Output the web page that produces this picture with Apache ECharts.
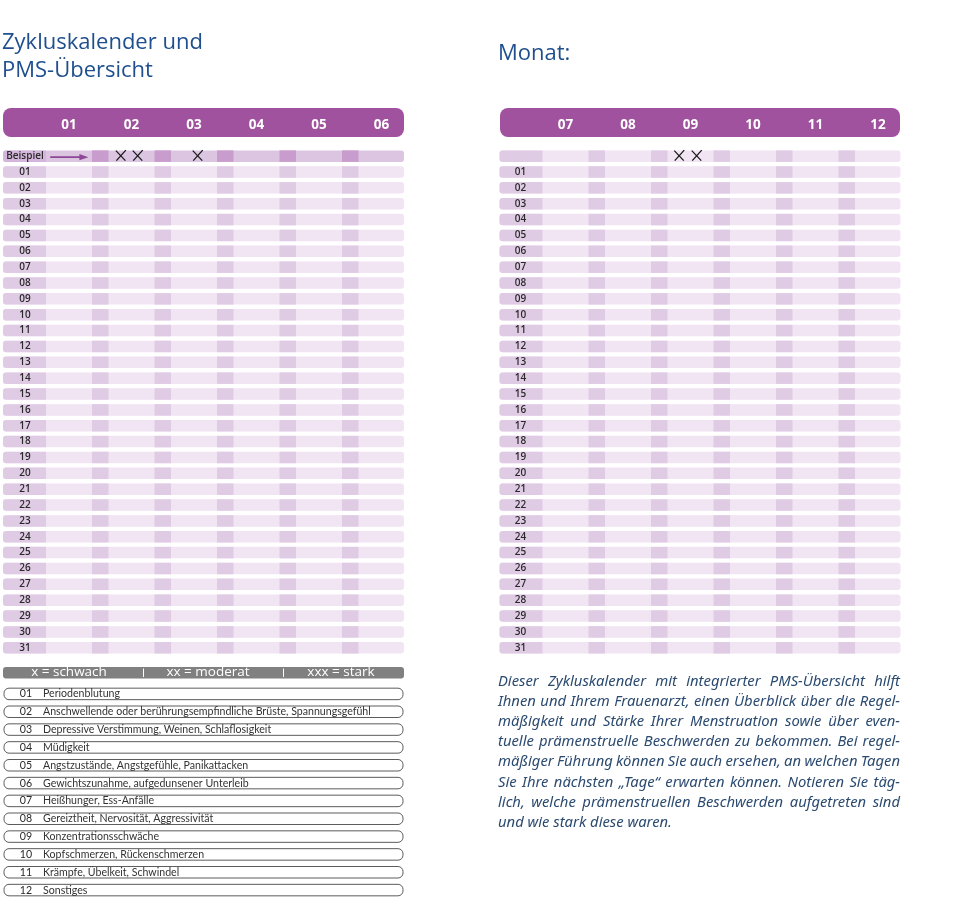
<!DOCTYPE html>
<html><head><meta charset="utf-8">
<script src="https://cdn.jsdelivr.net/npm/echarts@6/dist/echarts.min.js"></script>
<style>html,body{margin:0;padding:0;background:#fff}#c{width:960px;height:899px}</style>
</head><body><div id="c"></div>
<script>
// ---------- data ----------
const titleLines = ['Zykluskalender und', 'PMS-Übersicht'];
const monthTitle = 'Monat:';
const monthsLeft = ['01', '02', '03', '04', '05', '06'];
const monthsRight = ['07', '08', '09', '10', '11', '12'];
const exampleLabel = 'Beispiel';
const days = ['01','02','03','04','05','06','07','08','09','10','11','12','13','14','15','16',
              '17','18','19','20','21','22','23','24','25','26','27','28','29','30','31'];
// example marks (position in month units, row = example row)
const exampleMarksLeft = [1.83, 2.10, 3.06];
const exampleMarksRight = [2.82, 3.10];
const legendItems = ['x = schwach', 'xx = moderat', 'xxx = stark'];
const symptomCodes = ['01','02','03','04','05','06','07','08','09','10','11','12'];
const symptomTexts = [
  'Periodenblutung',
  'Anschwellende oder berührungsempfindliche Brüste, Spannungsgefühl',
  'Depressive Verstimmung, Weinen, Schlaflosigkeit',
  'Müdigkeit',
  'Angstzustände, Angstgefühle, Panikattacken',
  'Gewichtszunahme, aufgedunsener Unterleib',
  'Heißhunger, Ess-Anfälle',
  'Gereiztheit, Nervosität, Aggressivität',
  'Konzentrationsschwäche',
  'Kopfschmerzen, Rückenschmerzen',
  'Krämpfe, Übelkeit, Schwindel',
  'Sonstiges'
];
const introLines = [
  'Dieser Zykluskalender mit integrierter PMS-Übersicht hilft',
  'Ihnen und Ihrem Frauenarzt, einen Überblick über die Regel-',
  'mäßigkeit und Stärke Ihrer Menstruation sowie über even-',
  'tuelle prämenstruelle Beschwerden zu bekommen. Bei regel-',
  'mäßiger Führung können Sie auch ersehen, an welchen Tagen',
  'Sie Ihre nächsten „Tage“ erwarten können. Notieren Sie täg-',
  'lich, welche prämenstruellen Beschwerden aufgetreten sind',
  'und wie stark diese waren.'
];

// ---------- styling ----------
const FONT = '"Open Sans", "Noto Sans", sans-serif';
const SMALLFONT = 'Lato, "Noto Sans", sans-serif';
const PURPLE = '#a0529e';
const BLUE = '#1f4f8e';
const NAVY = '#2b4a70';

const rowLabelsLeft = [exampleLabel].concat(days);
const rowLabelsRight = [''].concat(days);

function calendarRenderer(highlightExample, monthCount) {
  return function (params, api) {
    const row = api.value(1);
    const y = api.coord([0, row])[1];
    const cs = params.coordSys;
    const h = 11.5;
    const isEx = highlightExample && row === 0;
    const base = isEx ? '#dcc5e1' : '#f1e4f3';
    const dark = isEx ? '#c89ccc' : '#e0cbe5';
    const cellC = isEx ? '#d4b5db' : '#e0cbe5';
    const x0 = cs.x, x1 = cs.x + cs.width;
    const cellR = api.coord([0.632, row])[0];
    const ch = [
      {type: 'rect', shape: {x: x0, y: y - h / 2, width: x1 - x0, height: h, r: 3}, style: {fill: base}},
      {type: 'rect', shape: {x: x0, y: y - h / 2, width: cellR - x0, height: h, r: [3, 0, 0, 3]}, style: {fill: cellC}}
    ];
    for (let k = 1; k < monthCount; k++) {
      const a = api.coord([k + 0.5 - 0.132, row])[0];
      const b = api.coord([k + 0.5 + 0.132, row])[0];
      ch.push({type: 'rect', shape: {x: a, y: y - h / 2, width: b - a, height: h}, style: {fill: dark}});
    }
    if (isEx) {
      const ax0 = api.coord([0.70, row])[0];
      const ax1 = api.coord([1.31, row])[0];
      const ay = y + 1;
      ch.push({type: 'line', shape: {x1: ax0, y1: ay, x2: ax1 - 6, y2: ay}, style: {stroke: '#8e4796', lineWidth: 1.6}});
      ch.push({type: 'polygon', shape: {points: [[ax1 - 9, ay - 3.2], [ax1, ay], [ax1 - 9, ay + 3.2]]}, style: {fill: '#8e4796'}});
    }
    return {type: 'group', children: ch};
  };
}

function markRenderer(params, api) {
  const p = api.coord([api.value(0), api.value(1)]);
  const cx = p[0], cy = p[1] - 0.5;
  return {type: 'group', children: [
    {type: 'line', shape: {x1: cx - 5, y1: cy - 5, x2: cx + 4.5, y2: cy + 5}, style: {stroke: '#1a1a1a', lineWidth: 1.3}},
    {type: 'line', shape: {x1: cx + 5, y1: cy - 5.5, x2: cx - 4.5, y2: cy + 5}, style: {stroke: '#1a1a1a', lineWidth: 1.3}}
  ]};
}

function symptomRenderer(params, api) {
  const i = api.value(1);
  const y = api.coord([0, i])[1];
  const cs = params.coordSys;
  const h = 11.5;
  return {type: 'group', children: [
    {type: 'rect', shape: {x: cs.x, y: y - h / 2, width: cs.width, height: h, r: 5},
     style: {fill: '#fff', stroke: '#4a4a4a', lineWidth: 0.9}},
    {type: 'text', x: cs.x + 39, y: y,
     style: {text: symptomTexts[params.dataIndex], fill: '#333', font: '10.6px ' + SMALLFONT, verticalAlign: 'middle', align: 'left'}}
  ]};
}

function xAxisFor(grid, months) {
  return {
    gridIndex: grid, type: 'value', min: -0.056, max: 6.36, position: 'top', z: 10,
    axisLine: {show: false}, axisTick: {show: false}, splitLine: {show: false},
    axisLabel: {
      customValues: months.map((m, i) => i + 1),
      formatter: v => months[Math.round(v) - 1],
      color: '#fff', fontSize: 13.5, fontWeight: 'bold', fontFamily: FONT,
      margin: 23, verticalAlign: 'middle'
    }
  };
}
function yAxisFor(grid, labels, margin, size, weight, family) {
  return {
    gridIndex: grid, type: 'category', data: labels, inverse: true, z: 10,
    axisLine: {show: false}, axisTick: {show: false}, splitLine: {show: false},
    axisLabel: {inside: true, align: 'center', margin: margin, interval: 0,
      fontSize: size, color: '#2a2a2a', fontFamily: family, fontWeight: weight}
  };
}

// ---------- justified paragraph ----------
const measureCtx = document.createElement('canvas').getContext('2d');
const PFONT = 'italic 14.8px "Noto Sans", "Open Sans", sans-serif';
measureCtx.font = PFONT;
const paraEls = [];
const pX0 = 498, pX1 = 900, pY0 = 681.7, pLH = 20.14;
introLines.forEach((line, li) => {
  const words = line.split(' ');
  const y = pY0 + li * pLH;
  const widths = words.map(w => measureCtx.measureText(w).width);
  const last = li === introLines.length - 1;
  const sp = measureCtx.measureText(' ').width;
  const gap = last ? sp : (pX1 - pX0 - widths.reduce((a, b) => a + b, 0)) / (words.length - 1);
  let x = pX0;
  words.forEach((w, wi) => {
    paraEls.push({type: 'text', x: x, y: y, z: 1,
      style: {text: w, font: PFONT, fill: NAVY, verticalAlign: 'middle', align: 'left'}});
    x += widths[wi] + gap;
  });
});

const graphicEls = [
  {type: 'text', x: 2, y: 43, style: {text: titleLines[0], font: '22px ' + FONT, fill: BLUE, verticalAlign: 'middle'}},
  {type: 'text', x: 2, y: 71, style: {text: titleLines[1], font: '22px ' + FONT, fill: BLUE, verticalAlign: 'middle'}},
  {type: 'text', x: 498, y: 54, style: {text: monthTitle, font: '22px ' + FONT, fill: BLUE, verticalAlign: 'middle'}},
  {type: 'rect', z: 1, shape: {x: 3, y: 108, width: 401, height: 29, r: 8}, style: {fill: PURPLE}},
  {type: 'rect', z: 1, shape: {x: 500, y: 108, width: 400, height: 29, r: 8}, style: {fill: PURPLE}},
  {type: 'rect', z: 1, shape: {x: 3, y: 667, width: 401, height: 11.5, r: 3}, style: {fill: '#808080'}}
];
const legendCenters = [69, 208, 341];
legendItems.forEach((t, i) => {
  graphicEls.push({type: 'text', z: 2, x: legendCenters[i], y: 672.5,
    style: {text: t, font: '13.5px ' + FONT, fill: '#fff', align: 'center', verticalAlign: 'middle'}});
});
[143, 283].forEach(x => graphicEls.push({type: 'rect', z: 2, shape: {x: x, y: 668.5, width: 1, height: 8.5}, style: {fill: '#fff'}}));

const chart = echarts.init(document.getElementById('c'), null, {renderer: 'canvas'});
chart.setOption({
  animation: false,
  backgroundColor: '#fff',
  grid: [
    {left: 3, top: 148.2, width: 401, height: 507.5},
    {left: 499.5, top: 148.2, width: 401, height: 507.5},
    {left: 4, top: 685, width: 399, height: 214.8}
  ],
  xAxis: [
    xAxisFor(0, monthsLeft),
    xAxisFor(1, monthsRight),
    {gridIndex: 2, type: 'value', min: 0, max: 1, show: false}
  ],
  yAxis: [
    yAxisFor(0, rowLabelsLeft, 22, 10, 600, FONT),
    yAxisFor(1, rowLabelsRight, 21, 10, 600, FONT),
    yAxisFor(2, symptomCodes, 22, 10.6, 'normal', SMALLFONT)
  ],
  series: [
    {type: 'custom', xAxisIndex: 0, yAxisIndex: 0, renderItem: calendarRenderer(true, monthsLeft.length),
     data: rowLabelsLeft.map((r, i) => [0, i]), silent: true, z: 2},
    {type: 'custom', xAxisIndex: 1, yAxisIndex: 1, renderItem: calendarRenderer(false, monthsRight.length),
     data: rowLabelsRight.map((r, i) => [0, i]), silent: true, z: 2},
    {type: 'custom', xAxisIndex: 0, yAxisIndex: 0, renderItem: markRenderer,
     data: exampleMarksLeft.map(v => [v, 0]), silent: true, z: 3},
    {type: 'custom', xAxisIndex: 1, yAxisIndex: 1, renderItem: markRenderer,
     data: exampleMarksRight.map(v => [v, 0]), silent: true, z: 3},
    {type: 'custom', xAxisIndex: 2, yAxisIndex: 2, renderItem: symptomRenderer,
     data: symptomCodes.map((c, i) => [0, i]), silent: true, z: 2}
  ],
  graphic: {elements: graphicEls.concat(paraEls)}
});
</script></body></html>
